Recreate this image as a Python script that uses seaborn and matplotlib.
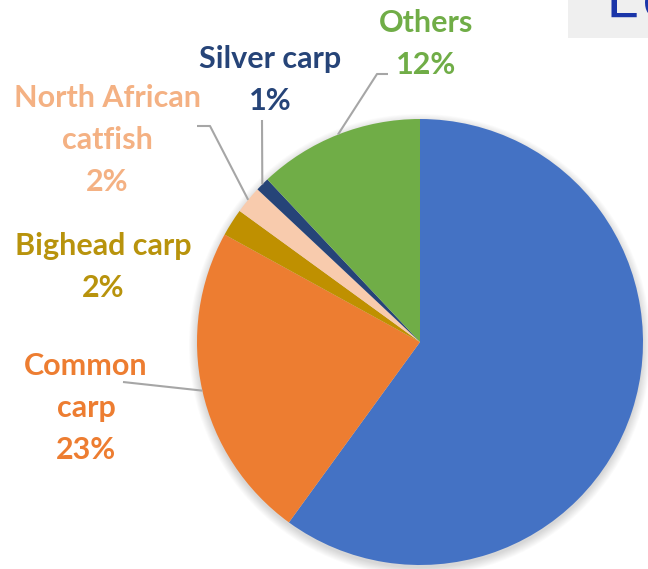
import matplotlib
matplotlib.use("Agg")
import matplotlib.pyplot as plt
import numpy as np
import seaborn as sns
from matplotlib.patches import Circle, Rectangle

# slice data, clockwise from 12 o'clock (first slice label is cropped out of the picture)
species = ["", "Common\ncarp", "Bighead carp", "North African\ncatfish", "Silver carp", "Others"]
shares = [60, 23, 2, 2, 1, 12]
slice_colors = ["#4472C4", "#ED7D31", "#BF9000", "#F8CBAD", "#264478", "#70AD47"]
text_colors = [None, "#ED7D31", "#B8930C", "#F4B183", "#264478", "#70AD47"]

W, H = 648, 569
CX, CY, R = 420, H - 342, 223


def py(y):
    """pixel row (from top) -> axes y."""
    return H - y


sns.set_theme(style="white")
plt.rcParams["font.family"] = ["Lato", "DejaVu Sans"]

fig = plt.figure(figsize=(W / 100, H / 100), dpi=100)
ax = fig.add_axes([0, 0, 1, 1])

# soft drop shadow under the pie
for k in range(10):
    ax.add_patch(Circle((CX, CY - 3), R + k * 0.9, color="black", alpha=0.016, lw=0, zorder=0))

wedges, _ = ax.pie(
    shares,
    colors=slice_colors,
    startangle=90,
    counterclock=False,
    center=(CX, CY),
    radius=R,
    wedgeprops=dict(linewidth=0),
    frame=False,
)


def edge_point(i, rr=1.0):
    w = wedges[i]
    mid = np.deg2rad((w.theta1 + w.theta2) / 2)
    return CX + R * rr * np.cos(mid), CY + R * rr * np.sin(mid)


# label anchor (centre x, first baseline in pixel rows) and leader elbows
label_pos = {1: (86, 375), 2: (103, 255), 3: (107, 107), 4: (270, 68), 5: (426, 32)}
leaders = {
    1: [(123, 382)],
    3: [(210, 126), (197, 126)],
    4: [(262, 120)],
    5: [(377, 74), (388, 74)],
}

line_gap = 42
for i, (name, pct) in enumerate(zip(species, shares)):
    if i not in label_pos:
        continue
    x, y0 = label_pos[i]
    lines = name.split("\n") + [f"{pct}%"]
    for j, line in enumerate(lines):
        ax.text(x, py(y0 + j * line_gap), line, ha="center", va="baseline",
                fontsize=22, fontweight="bold", color=text_colors[i])

for i, pts in leaders.items():
    ex, ey = edge_point(i)
    xs = [ex] + [p[0] for p in pts]
    ys = [ey] + [py(p[1]) for p in pts]
    ax.plot(xs, ys, color="#A6A6A6", lw=1.5, solid_capstyle="butt", zorder=1)

# cropped grey title box at the top right (its text runs off the top edge)
ax.add_patch(Rectangle((568, py(38)), W - 568, 38, color="#EFEFEF", lw=0, zorder=0))
ax.text(605.5, py(16.5), "L", fontsize=40, color="#1A35A8", family="DejaVu Sans",
        ha="left", va="baseline")
ax.text(642, py(16.5), "o", fontsize=40, color="#1A35A8", family="DejaVu Sans",
        ha="left", va="baseline")

ax.set_xlim(0, W)
ax.set_ylim(0, H)
ax.set_aspect("equal")
ax.axis("off")

fig.savefig("out.png", dpi=100)
